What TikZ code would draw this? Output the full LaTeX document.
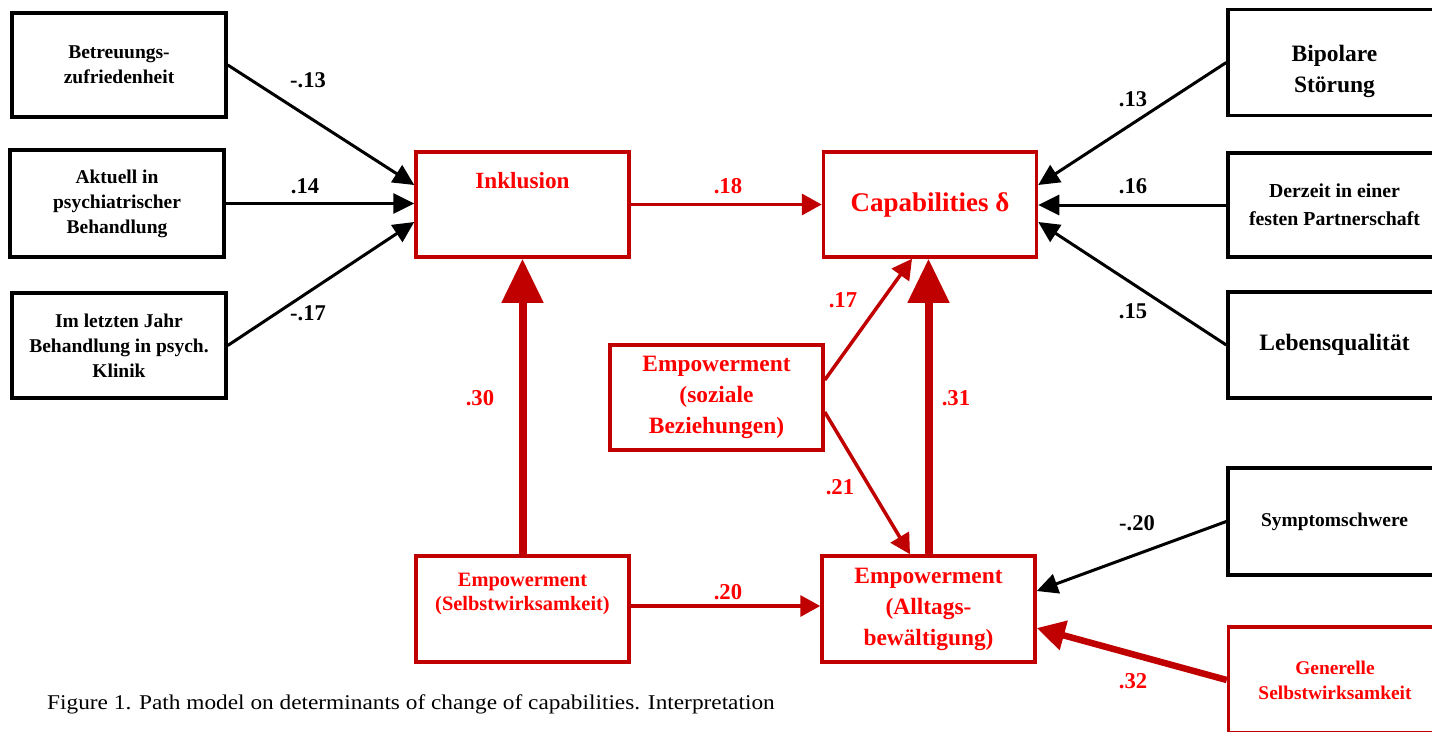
\documentclass[tikz,border=0pt]{standalone}
\usepackage{fontspec}
\setmainfont{Liberation Serif}
\newfontfamily\widefont[FakeStretch=1.11]{Liberation Serif}
\usetikzlibrary{arrows.meta,calc}
\definecolor{boxred}{RGB}{192,0,0}
\definecolor{txtred}{RGB}{255,0,0}
\begin{document}
\begin{tikzpicture}[x=1pt,y=-1pt,
  bbox/.style={draw=black,line width=3.5pt,minimum width=214pt,minimum height=105pt,inner sep=0pt,align=center,
    font={\bfseries\fontsize{19.5}{25}\selectfont}},
  rbox/.style={draw=boxred,line width=3.5pt,text=txtred,minimum width=213pt,minimum height=105pt,inner sep=0pt,align=center,
    font={\bfseries\fontsize{23.4}{31}\selectfont}},
  barrow/.style={draw=black,line width=3pt,-{Triangle[length=21pt,width=20pt]}},
  rthin/.style={draw=boxred,line width=3.5pt,-{Triangle[length=20pt,width=21pt]}},
  rthick/.style={draw=boxred,line width=8pt,-{Triangle[length=44pt,width=40pt]}},
  rmid/.style={draw=boxred,line width=6.5pt,-{Triangle[length=28pt,width=29pt]}},
  lab/.style={inner sep=0pt,font={\bfseries\fontsize{22.5}{27}\selectfont}},
  rlab/.style={inner sep=0pt,text=txtred,font={\bfseries\fontsize{22.7}{27}\selectfont}}
]
\useasboundingbox (0,0) rectangle (1432,731);
\clip (0,0) rectangle (1432,731);
\fill[white] (0,0) rectangle (1432,731);

% left boxes
\node[bbox,minimum height=104pt] (b1) at (119,65) {Betreuungs-\\zufriedenheit};
\node[bbox,minimum height=107pt] (b2) at (117,203.5) {Aktuell in\\psychiatrischer\\Behandlung};
\node[bbox] (b3) at (119,345.5) {Im letzten Jahr\\Behandlung in psych.\\Klinik};

% central red boxes
\node[rbox,label={[inner sep=0pt,text=txtred,font={\bfseries\fontsize{23.2}{28}\selectfont},yshift=23.5pt]center:Inklusion}] (inkl) at (522.5,204.5) {};
\node[rbox,font={\bfseries\fontsize{27}{32}\selectfont}] (cap) at (930,204.5) {Capabilities δ};
\node[rbox] (soz) at (716.5,397.5) {Empowerment\\(soziale\\Beziehungen)};
\node[rbox,minimum height=106pt,label={[inner sep=0pt,align=center,text=txtred,font={\bfseries\fontsize{20.4}{24}\selectfont},yshift=15pt]center:{Empowerment\\(Selbstwirksamkeit)}}] (selb) at (522.5,609) {};
\node[rbox,minimum height=106pt] (allt) at (928.5,609) {Empowerment\\(Alltags-\\bewältigung)};

% right boxes
\node[bbox,minimum width=213pt,minimum height=106pt,label={[inner sep=0pt,align=center,font={\bfseries\fontsize{23.5}{31}\selectfont},yshift=-8.5pt]center:{Bipolare\\Störung}}] (bip) at (1334.5,62.5) {};
\node[bbox,minimum width=213pt,minimum height=104pt,font={\bfseries\fontsize{19.8}{28}\selectfont}] (derz) at (1334.5,205) {Derzeit in einer\\festen Partnerschaft};
\node[bbox,minimum width=213pt,minimum height=106pt,font={\bfseries\fontsize{23.5}{28}\selectfont}] (leb) at (1334.5,345) {Lebensqualität};
\node[bbox,minimum width=213pt,minimum height=107pt] (sym) at (1334.5,521.5) {Symptomschwere};
\node[rbox,minimum height=106pt,font={\bfseries\fontsize{19.4}{25}\selectfont}] (gen) at (1335,680) {Generelle\\Selbstwirksamkeit};

% connectors
\draw[barrow] (b1.east) -- ($(inkl.west)+(0,-19.5)$);
\draw[barrow] (b2.east) -- (b2.east -| inkl.west);
\draw[barrow] (b3.east) -- ($(inkl.west)+(0,17.5)$);
\draw[rthin] (inkl.east) -- (cap.west);
\draw[barrow] (bip.west) -- ($(cap.east)+(0,-19.5)$);
\draw[barrow] (derz.west) -- (derz.west -| cap.east);
\draw[barrow] (leb.west) -- ($(cap.east)+(0,17.5)$);
\draw[barrow] (sym.west) -- ($(allt.east)+(0,-18)$);
\draw[rmid] (gen.west) -- ($(allt.east)+(0,19)$);
\draw[rthick] (selb.north) -- (inkl.south);
\draw[rthick] (allt.north) -- (allt.north |- cap.south);
\draw[rthin] ($(soz.east)+(0,-17.5)$) -- ($(cap.south)+(-18,0)$);
\draw[rthin] ($(soz.east)+(0,14.5)$) -- ($(allt.north)+(-18.5,0)$);
\draw[rthin] ($(selb.east)+(0,-3)$) -- ($(allt.west)+(0,-3)$);

% coefficients
\node[lab] (l1) at (308,80) {-.13};
\node[lab] (l2) at (305,186) {.14};
\node[lab] (l3) at (308,313) {-.17};
\node[rlab] (l4) at (728,186) {.18};
\node[lab] (l5) at (1133,99) {.13};
\node[lab] (l6) at (1133,186) {.16};
\node[lab] (l7) at (1133,311) {.15};
\node[rlab] (l8) at (843,300) {.17};
\node[rlab] (l9) at (480,398) {.30};
\node[rlab] (l10) at (956,398) {.31};
\node[rlab] (l11) at (840,487) {.21};
\node[lab] (l12) at (1137,523) {-.20};
\node[rlab] (l13) at (728,592) {.20};
\node[rlab] (l14) at (1133,681) {.32};

% caption
\node[anchor=base west,inner sep=0pt,font={\widefont\fontsize{21}{24}\selectfont}] (fig) at (47,709) {Figure 1. Path model on determinants of change of capabilities. Interpretation};
\end{tikzpicture}
\end{document}
